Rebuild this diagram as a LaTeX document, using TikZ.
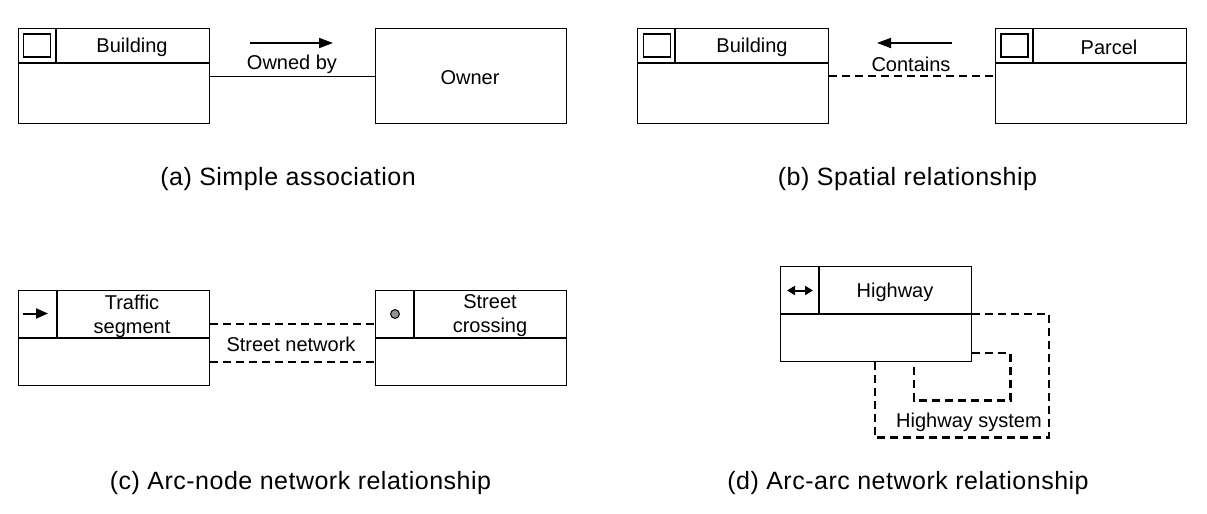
\documentclass[tikz,border=0pt]{standalone}
\usepackage{fontspec}
\setmainfont{Liberation Sans}
\newfontfamily\capfont[LetterSpace=2]{Liberation Sans}
\usetikzlibrary{arrows.meta}

\begin{document}
\begin{tikzpicture}[x = 0.5pt, y = -0.5pt,
  classbox/.style = {draw, line width=0.6pt, anchor=north west,
    minimum width=95.5pt, minimum height=47.5pt, inner sep=0pt},
  iconbox/.style = {draw, line width=0.6pt, minimum width=13.5pt,
    minimum height=11.5pt, inner sep=0pt, outer sep=0pt},
  title/.style = {align=center, inner sep=0pt, yshift=-1pt,
    font=\fontsize{10pt}{12pt}\selectfont},
  caption/.style = {inner sep=0pt, yshift=-1pt,
    font=\capfont\fontsize{12.5pt}{15pt}\selectfont},
  assoc/.style = {line width=0.6pt},
  netline/.style = {line width=1.1pt, dash pattern=on 4pt off 2.5pt},
  dirarrow/.style = {line width=0.9pt, -{Triangle[length=7pt,width=5pt]}},
  icontip/.style = {line width=1pt, -{Triangle[length=6pt,width=5pt]}}]
  \useasboundingbox (0,0) rectangle (1207,514);

  % Define nodes
  \node[classbox] (A) at (18,28) {};
  \node[classbox] (B) at (375,28) {};
  \node[classbox] (C) at (637,28) {};
  \node[classbox] (D) at (995,28) {};
  \node[classbox] (E) at (18,290) {};
  \node[classbox] (F) at (375,290) {};
  \node[classbox] (G) at (780,266) {};

  % Header and icon cells
  \foreach \n in {A,C,D}
    \draw[assoc] ([yshift=-17.5pt]\n.north west) -- ([yshift=-17.5pt]\n.north east)
      ([xshift=19pt]\n.north west) -- ([xshift=19pt,yshift=-17.5pt]\n.north west);
  \foreach \n in {E,F,G}
    \draw[assoc] ([yshift=-24pt]\n.north west) -- ([yshift=-24pt]\n.north east)
      ([xshift=19.5pt]\n.north west) -- ([xshift=19.5pt,yshift=-24pt]\n.north west);

  % Titles
  \node[title] (A-t) at (132,45.5) {Building};
  \node[title] (B-t) at (470,75.5) {Owner};
  \node[title] (C-t) at (752,45.5) {Building};
  \node[title] (D-t) at (1109,45.5) {Parcel};
  \node[title] (E-t) at (132,314) {Traffic\\segment};
  \node[title] (F-t) at (490,314) {Street\\crossing};
  \node[title] (G-t) at (895,290) {Highway};

  % Icons
  \node[iconbox] (A-i) at (37.2,45.5) {};
  \node[iconbox] (C-i) at (656.7,45.5) {};
  \node[iconbox] (D-i) at (1014.5,45.5) {};
  \draw[icontip] (23,313.5) -- (48,313.5);
  \fill[gray!85, draw=black, line width=0.5pt] (395,314) circle (2.2pt);
  \draw[line width=1pt, {Triangle[length=4pt,width=4.5pt]}-{Triangle[length=4pt,width=4.5pt]}]
    (787,290.5) -- (813,290.5);

  % Draw connectors
  \draw[assoc] (A) -- (B);
  \draw[dirarrow] (250,43) -- (333,43);
  \node[title] (own) at (292,62) {Owned by};

  \draw[netline] (C) -- (D);
  \draw[dirarrow] (952,43) -- (877,43);
  \node[title] (cont) at (911,62) {Contains};

  \draw[netline] ([yshift=7pt]E.east) -- ([yshift=7pt]F.west);
  \draw[netline] ([yshift=-11.75pt]E.east) -- ([yshift=-11.75pt]F.west);
  \node[title] (net) at (291,342) {Street network};

  \coordinate (G-c1) at (1049,437.5);
  \coordinate (G-c2) at (875,0);
  \coordinate (G-c3) at (1010.5,400.5);
  \coordinate (G-c4) at (914,0);
  \draw[netline] (G.east) -| (G-c1) -| (G.south -| G-c2);
  \draw[netline] ([yshift=4.5pt]G.south east) -| (G-c3) -| (G.south -| G-c4);
  \node[title] (sys) at (969,420) {Highway system};

  % Captions
  \node[caption] (cap-a) at (288,177) {(a) Simple association};
  \node[caption] (cap-b) at (907.5,177) {(b) Spatial relationship};
  \node[caption] (cap-c) at (300.5,481) {(c) Arc-node network relationship};
  \node[caption] (cap-d) at (908,481) {(d) Arc-arc network relationship};
\end{tikzpicture}
\end{document}
